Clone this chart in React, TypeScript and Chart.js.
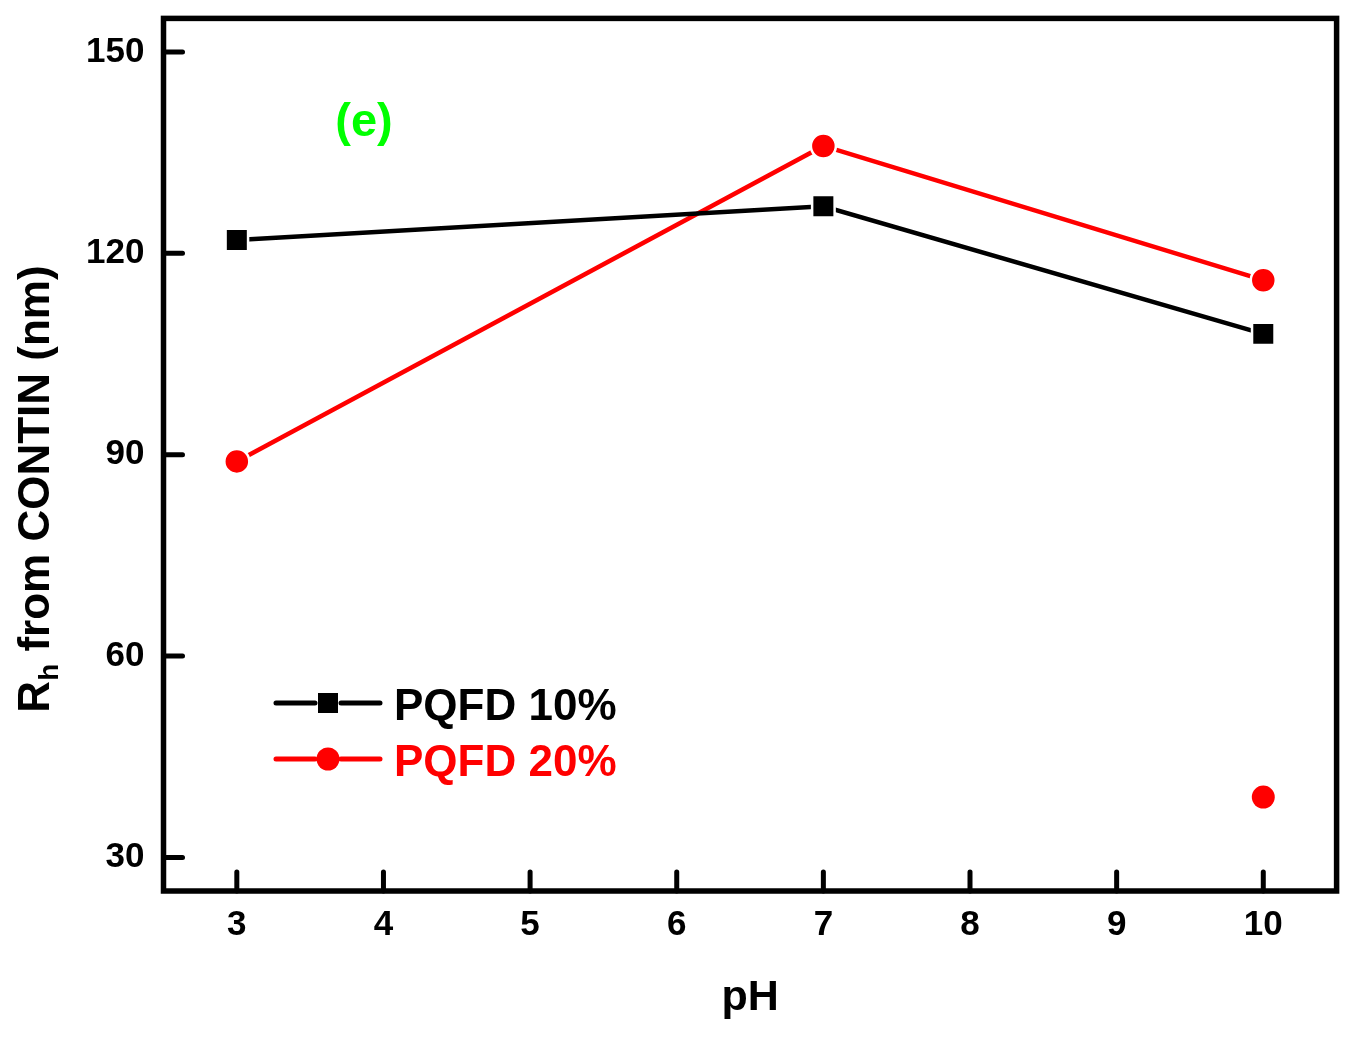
import React, { useEffect, useRef } from "react";
import { Chart, registerables } from "chart.js";

Chart.register(...registerables);

// ---- data ----
const phValues = [3, 7, 10];
const pqfd10 = [122, 127, 108];
const pqfd20 = [89, 136, 116];
const extraPh = [10];
const extraPqfd20 = [39];
const xTicks = [3, 4, 5, 6, 7, 8, 9, 10];
const yTicks = [30, 60, 90, 120, 150];
const seriesLabels = ["PQFD 10%", "PQFD 20%"];
const seriesColors = ["#000000", "#ff0000"];
const panelLabel = "(e)";
const xTitle = "pH";
const yTitleMain = "R";
const yTitleSub = "h";
const yTitleRest = " from CONTIN (nm)";

const FONT = "'Liberation Sans', Arial, Helvetica, sans-serif";
const W = 1355;
const H = 1037;

const decorPlugin = {
  id: "decor",
  afterDraw(chart: any) {
    const { ctx, chartArea } = chart;
    const { left, right, top, bottom } = chartArea;
    const xs = chart.scales.x;
    const ys = chart.scales.y;
    ctx.save();
    // inward ticks
    ctx.strokeStyle = "#000";
    ctx.lineWidth = 5;
    ctx.lineCap = "round";
    xTicks.forEach((v) => {
      const px = xs.getPixelForValue(v);
      ctx.beginPath();
      ctx.moveTo(px, bottom);
      ctx.lineTo(px, bottom - 19);
      ctx.stroke();
    });
    yTicks.forEach((v) => {
      const py = ys.getPixelForValue(v);
      ctx.beginPath();
      ctx.moveTo(left, py);
      ctx.lineTo(left + 19, py);
      ctx.stroke();
    });
    // frame
    ctx.lineCap = "butt";
    ctx.lineJoin = "miter";
    ctx.lineWidth = 5.5;
    ctx.strokeRect(left, top, right - left, bottom - top);

    // y title with subscript
    const mainFont = `bold 44px ${FONT}`;
    const subFont = `bold 28px ${FONT}`;
    ctx.font = mainFont;
    const wR = ctx.measureText(yTitleMain).width;
    const wRest = ctx.measureText(yTitleRest).width;
    ctx.font = subFont;
    const wH = ctx.measureText(yTitleSub).width;
    const total = wR + wH + wRest;
    ctx.translate(49, 489);
    ctx.rotate(-Math.PI / 2);
    ctx.fillStyle = "#000";
    ctx.textAlign = "left";
    ctx.textBaseline = "alphabetic";
    let cx = -total / 2;
    ctx.font = mainFont;
    ctx.fillText(yTitleMain, cx, 0);
    cx += wR;
    ctx.font = subFont;
    ctx.fillText(yTitleSub, cx, 9);
    cx += wH;
    ctx.font = mainFont;
    ctx.fillText(yTitleRest, cx, 0);
    ctx.restore();

    // panel label
    ctx.save();
    ctx.font = `bold 47px ${FONT}`;
    ctx.fillStyle = "#00ff00";
    ctx.textAlign = "center";
    ctx.textBaseline = "alphabetic";
    ctx.fillText(panelLabel, 364, 136);
    ctx.restore();

    // legend
    ctx.save();
    const rows = [703, 759];
    rows.forEach((ry, i) => {
      const color = seriesColors[i];
      ctx.strokeStyle = color;
      ctx.fillStyle = color;
      ctx.lineWidth = 5;
      ctx.lineCap = "round";
      ctx.beginPath();
      ctx.moveTo(276, ry);
      ctx.lineTo(315, ry);
      ctx.moveTo(341, ry);
      ctx.lineTo(380, ry);
      ctx.stroke();
      if (i === 0) {
        ctx.fillRect(318, ry - 10, 20, 20);
      } else {
        ctx.beginPath();
        ctx.arc(328, ry, 11.5, 0, Math.PI * 2);
        ctx.fill();
      }
      ctx.font = `bold 44px ${FONT}`;
      ctx.textAlign = "left";
      ctx.textBaseline = "alphabetic";
      ctx.fillText(seriesLabels[i], 394, ry + 17);
    });
    ctx.restore();
  },
};

export default function App() {
  const canvasRef = useRef<HTMLCanvasElement | null>(null);

  useEffect(() => {
    document.body.style.margin = "0";
    const canvas = canvasRef.current;
    if (!canvas) return;
    Chart.defaults.font.family = FONT;
    const tickFont = { family: FONT, size: 35, weight: "bold" as const };
    const chart = new Chart(canvas, {
      type: "line",
      data: {
        datasets: [
          {
            label: seriesLabels[0],
            data: phValues.map((x, i) => ({ x, y: pqfd10[i] })),
            borderColor: seriesColors[0],
            backgroundColor: seriesColors[0],
            borderWidth: 4.5,
            tension: 0,
            pointStyle: "rect",
            pointRadius: 15.9,
            pointBorderWidth: 2.5,
            pointBorderColor: "#ffffff",
            pointBackgroundColor: seriesColors[0],
          },
          {
            label: seriesLabels[1],
            data: phValues.map((x, i) => ({ x, y: pqfd20[i] })),
            borderColor: seriesColors[1],
            backgroundColor: seriesColors[1],
            borderWidth: 4.5,
            tension: 0,
            pointStyle: "circle",
            pointRadius: 12.5,
            pointBorderWidth: 2.5,
            pointBorderColor: "#ffffff",
            pointBackgroundColor: seriesColors[1],
          },
          {
            label: seriesLabels[1] + " (2nd)",
            data: extraPh.map((x, i) => ({ x, y: extraPqfd20[i] })),
            borderColor: seriesColors[1],
            backgroundColor: seriesColors[1],
            showLine: false,
            pointStyle: "circle",
            pointRadius: 11.5,
            pointBorderWidth: 0,
            pointBackgroundColor: seriesColors[1],
          },
        ],
      },
      options: {
        responsive: false,
        animation: false,
        events: [],
        layout: { padding: { top: 16.5, right: 16.5, left: 0, bottom: 0 } },
        plugins: {
          legend: { display: false },
          tooltip: { enabled: false },
          title: { display: false },
        },
        scales: {
          x: {
            type: "linear",
            min: 2.5,
            max: 10.5,
            afterBuildTicks: (s: any) => {
              s.ticks = xTicks.map((v) => ({ value: v }));
            },
            afterFit: (s: any) => {
              s.height = 146;
              s.paddingLeft = 0;
              s.paddingRight = 0;
            },
            grid: { display: false, drawTicks: false },
            border: { display: false },
            ticks: {
              font: tickFont,
              color: "#000",
              padding: 13,
              autoSkip: false,
              maxRotation: 0,
            },
            title: {
              display: true,
              text: xTitle,
              color: "#000",
              font: { family: FONT, size: 43, weight: "bold" },
              padding: { top: 0, bottom: 13 },
            },
          },
          y: {
            type: "linear",
            min: 25,
            max: 155,
            afterBuildTicks: (s: any) => {
              s.ticks = yTicks.map((v) => ({ value: v }));
            },
            afterFit: (s: any) => {
              s.width = 163.5;
              s.paddingTop = 0;
              s.paddingBottom = 0;
            },
            grid: { display: false, drawTicks: false },
            border: { display: false },
            ticks: {
              font: tickFont,
              color: "#000",
              padding: 19,
              autoSkip: false,
            },
            title: { display: false },
          },
        },
      },
      plugins: [decorPlugin],
    });
    return () => {
      chart.destroy();
    };
  }, []);

  return (
    <div style={{ width: W, height: H, background: "#fff" }}>
      <canvas ref={canvasRef} width={W} height={H} style={{ display: "block" }} />
    </div>
  );
}
